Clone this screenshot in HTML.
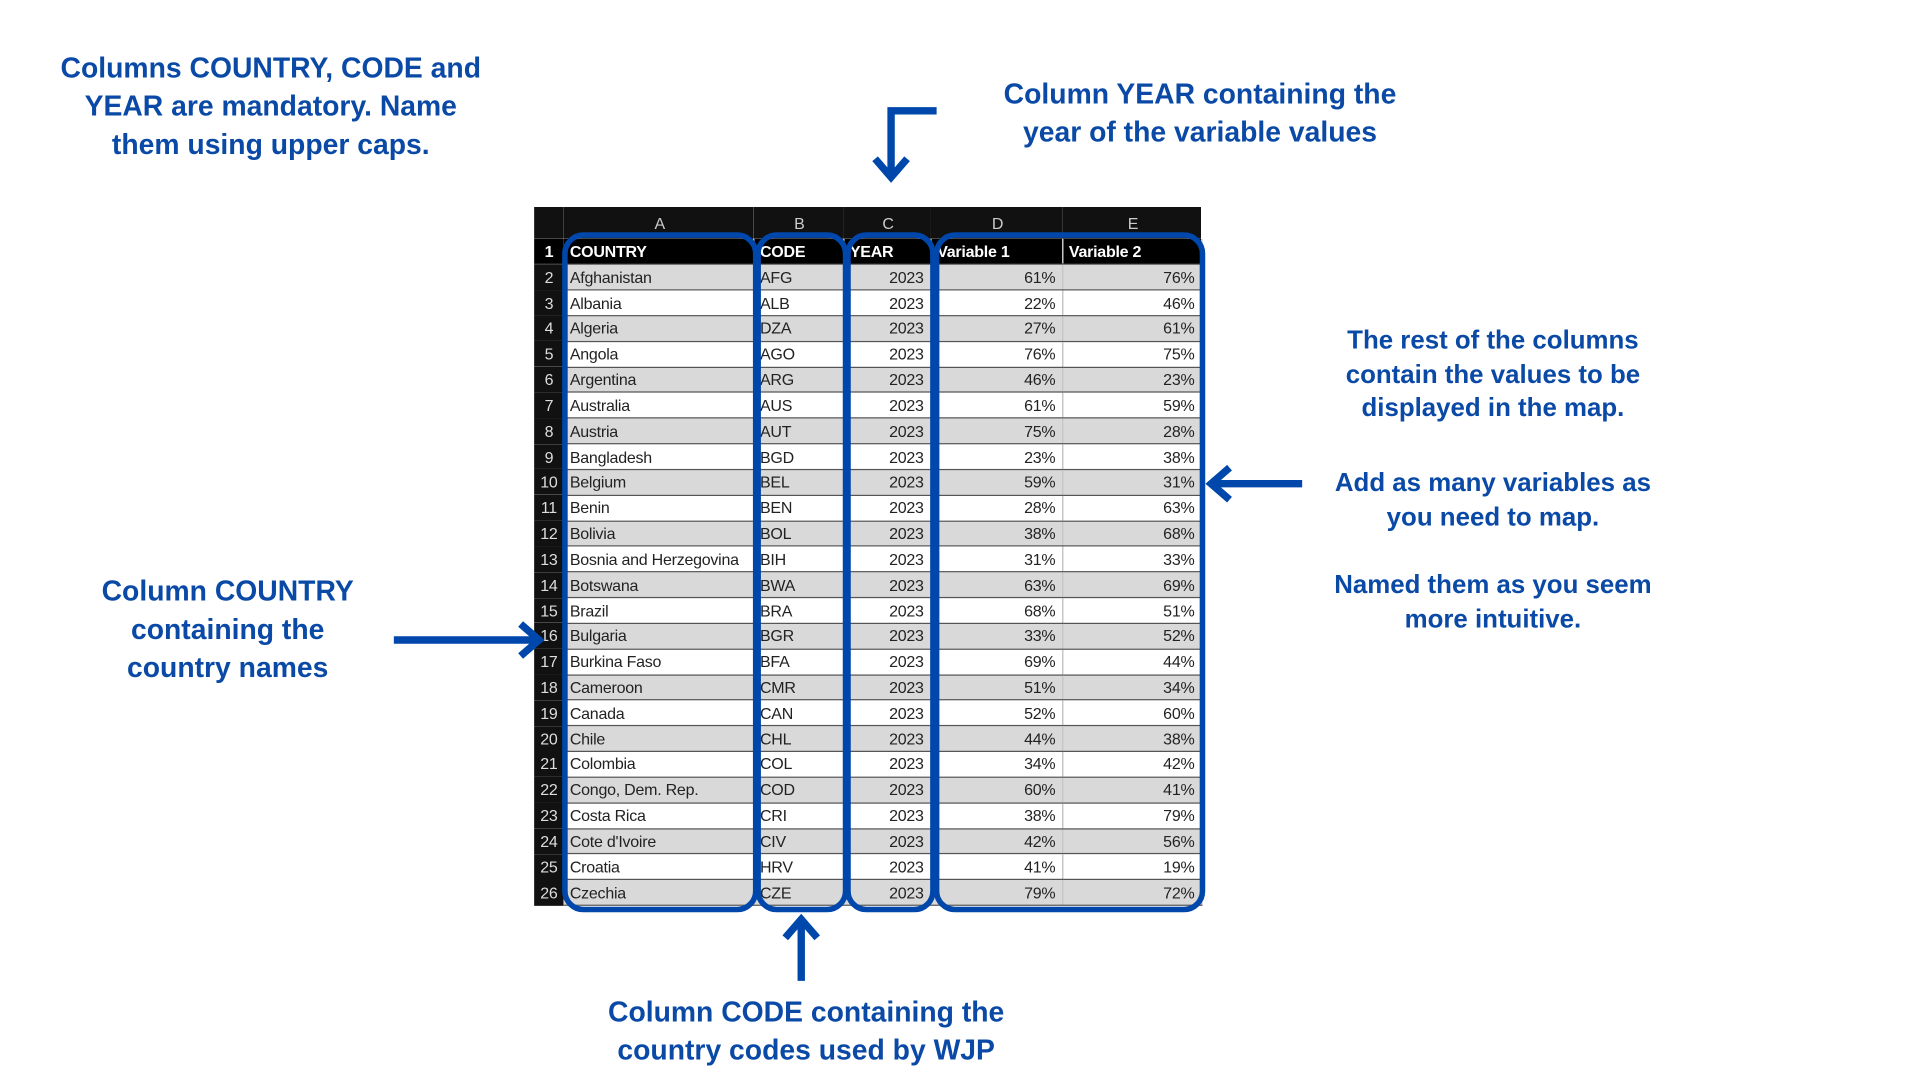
<!DOCTYPE html>
<html><head><meta charset="utf-8"><style>
html,body{margin:0;padding:0;background:#fff;width:1920px;height:1080px;overflow:hidden}
#w{position:absolute;left:0;top:0;width:1560px;height:878px;transform:scale(1.230769);transform-origin:0 0}
.t{position:absolute;font-family:"Liberation Sans",sans-serif;font-weight:bold;color:#0a4aa6;text-align:center;white-space:nowrap}
table{position:absolute;left:434px;top:168px;width:542px;border-collapse:collapse;table-layout:fixed;font-family:"Liberation Sans Narrow","Liberation Sans",sans-serif;font-size:13px;letter-spacing:-0.2px;color:#222}
td{height:20.84px;padding:0 3px 0 5px;overflow:hidden;white-space:nowrap;border-bottom:1px solid #555;border-right:1px solid #bbb;box-sizing:border-box;line-height:19px}
tr td.n{background:#111;color:#ddd;text-align:center;padding:0;border:none}
tr.h td{background:#111;color:#ccc;text-align:center;height:26px;border:none}
tr.k td{background:#000;color:#fff;font-weight:bold;border-bottom:1px solid #333}
tr.g td{background:#d9d9d9}
tr.w td{background:#fff}
tr.g td.n,tr.w td.n{background:#111}
td.r{text-align:right;padding-right:5px}
</style></head><body><div id="w">
<div class="t" style="left:20px;top:40px;width:400px;font-size:23px;line-height:31px">Columns COUNTRY, CODE and<br>YEAR are mandatory. Name<br>them using upper caps.</div>
<div class="t" style="left:775px;top:61px;width:400px;font-size:23px;line-height:31px">Column YEAR containing the<br>year of the variable values</div>
<div class="t" style="left:1013px;top:263px;width:400px;font-size:21px;line-height:27.5px">The rest of the columns<br>contain the values to be<br>displayed in the map.</div>
<div class="t" style="left:1013px;top:379px;width:400px;font-size:21px;line-height:27.5px">Add as many variables as<br>you need to map.</div>
<div class="t" style="left:1013px;top:462px;width:400px;font-size:21px;line-height:27.5px">Named them as you seem<br>more intuitive.</div>
<div class="t" style="left:-15px;top:465px;width:400px;font-size:23px;line-height:31px">Column COUNTRY<br>containing the<br>country names</div>
<div class="t" style="left:455px;top:807px;width:400px;font-size:23px;line-height:31px">Column CODE containing the<br>country codes used by WJP</div>
<table>
<colgroup><col style="width:24px"><col style="width:154px"><col style="width:73px"><col style="width:71px"><col style="width:107px"><col style="width:113px"></colgroup>
<tr class="h"><td></td><td>A</td><td>B</td><td>C</td><td>D</td><td>E</td></tr>
<tr class="k"><td class="n">1</td><td>COUNTRY</td><td>CODE</td><td>YEAR</td><td>Variable 1</td><td>Variable 2</td></tr>
<tr class="g"><td class="n">2</td><td>Afghanistan</td><td>AFG</td><td class="r">2023</td><td class="r">61%</td><td class="r">76%</td></tr>
<tr class="w"><td class="n">3</td><td>Albania</td><td>ALB</td><td class="r">2023</td><td class="r">22%</td><td class="r">46%</td></tr>
<tr class="g"><td class="n">4</td><td>Algeria</td><td>DZA</td><td class="r">2023</td><td class="r">27%</td><td class="r">61%</td></tr>
<tr class="w"><td class="n">5</td><td>Angola</td><td>AGO</td><td class="r">2023</td><td class="r">76%</td><td class="r">75%</td></tr>
<tr class="g"><td class="n">6</td><td>Argentina</td><td>ARG</td><td class="r">2023</td><td class="r">46%</td><td class="r">23%</td></tr>
<tr class="w"><td class="n">7</td><td>Australia</td><td>AUS</td><td class="r">2023</td><td class="r">61%</td><td class="r">59%</td></tr>
<tr class="g"><td class="n">8</td><td>Austria</td><td>AUT</td><td class="r">2023</td><td class="r">75%</td><td class="r">28%</td></tr>
<tr class="w"><td class="n">9</td><td>Bangladesh</td><td>BGD</td><td class="r">2023</td><td class="r">23%</td><td class="r">38%</td></tr>
<tr class="g"><td class="n">10</td><td>Belgium</td><td>BEL</td><td class="r">2023</td><td class="r">59%</td><td class="r">31%</td></tr>
<tr class="w"><td class="n">11</td><td>Benin</td><td>BEN</td><td class="r">2023</td><td class="r">28%</td><td class="r">63%</td></tr>
<tr class="g"><td class="n">12</td><td>Bolivia</td><td>BOL</td><td class="r">2023</td><td class="r">38%</td><td class="r">68%</td></tr>
<tr class="w"><td class="n">13</td><td>Bosnia and Herzegovina</td><td>BIH</td><td class="r">2023</td><td class="r">31%</td><td class="r">33%</td></tr>
<tr class="g"><td class="n">14</td><td>Botswana</td><td>BWA</td><td class="r">2023</td><td class="r">63%</td><td class="r">69%</td></tr>
<tr class="w"><td class="n">15</td><td>Brazil</td><td>BRA</td><td class="r">2023</td><td class="r">68%</td><td class="r">51%</td></tr>
<tr class="g"><td class="n">16</td><td>Bulgaria</td><td>BGR</td><td class="r">2023</td><td class="r">33%</td><td class="r">52%</td></tr>
<tr class="w"><td class="n">17</td><td>Burkina Faso</td><td>BFA</td><td class="r">2023</td><td class="r">69%</td><td class="r">44%</td></tr>
<tr class="g"><td class="n">18</td><td>Cameroon</td><td>CMR</td><td class="r">2023</td><td class="r">51%</td><td class="r">34%</td></tr>
<tr class="w"><td class="n">19</td><td>Canada</td><td>CAN</td><td class="r">2023</td><td class="r">52%</td><td class="r">60%</td></tr>
<tr class="g"><td class="n">20</td><td>Chile</td><td>CHL</td><td class="r">2023</td><td class="r">44%</td><td class="r">38%</td></tr>
<tr class="w"><td class="n">21</td><td>Colombia</td><td>COL</td><td class="r">2023</td><td class="r">34%</td><td class="r">42%</td></tr>
<tr class="g"><td class="n">22</td><td>Congo, Dem. Rep.</td><td>COD</td><td class="r">2023</td><td class="r">60%</td><td class="r">41%</td></tr>
<tr class="w"><td class="n">23</td><td>Costa Rica</td><td>CRI</td><td class="r">2023</td><td class="r">38%</td><td class="r">79%</td></tr>
<tr class="g"><td class="n">24</td><td>Cote d'Ivoire</td><td>CIV</td><td class="r">2023</td><td class="r">42%</td><td class="r">56%</td></tr>
<tr class="w"><td class="n">25</td><td>Croatia</td><td>HRV</td><td class="r">2023</td><td class="r">41%</td><td class="r">19%</td></tr>
<tr class="g"><td class="n">26</td><td>Czechia</td><td>CZE</td><td class="r">2023</td><td class="r">79%</td><td class="r">72%</td></tr>
</table>
<svg style="position:absolute;left:0;top:0" width="1560" height="878">
<g fill="none" stroke="#0047ab" stroke-width="4.5">
<rect x="459" y="191" width="155" height="548" rx="15"/>
<rect x="616" y="191" width="71" height="548" rx="15"/>
<rect x="689" y="191" width="69" height="548" rx="15"/>
<rect x="761" y="191" width="216" height="548" rx="15"/>
</g>
<g fill="none" stroke="#0047ab" stroke-width="6" stroke-linecap="butt" stroke-linejoin="miter">
<polyline points="761,90 724,90 724,143"/>
<polyline points="711,129 724,144 737,129"/>
<line x1="320" y1="520" x2="437" y2="520"/>
<polyline points="423,507 438,520 423,533"/>
<line x1="1058" y1="393" x2="985" y2="393"/>
<polyline points="999,380 984,393 999,406"/>
<line x1="651" y1="797" x2="651" y2="748"/>
<polyline points="638,762 651,747 664,762"/>
</g>
</svg>
</div></body></html>
